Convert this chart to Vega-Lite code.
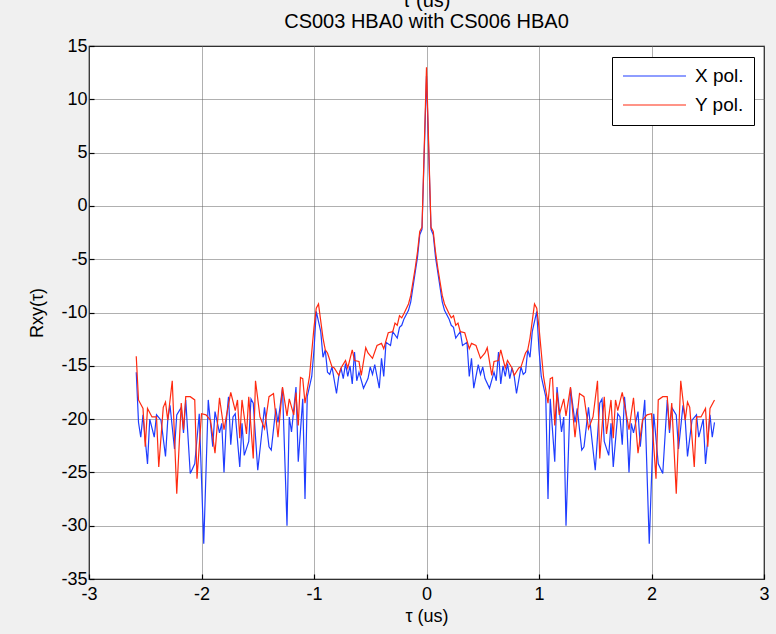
{
  "$schema": "https://vega.github.io/schema/vega-lite/v6.json",
  "width": 675,
  "height": 533,
  "autosize": {"type": "none"},
  "padding": {"left": 89, "top": 46, "right": 12, "bottom": 55},
  "background": "#f0f0f0",
  "title": {
    "text": ["τ (us)", "CS003 HBA0 with CS006 HBA0"],
    "fontSize": 20,
    "font": "Liberation Sans",
    "fontWeight": "normal",
    "color": "black",
    "lineHeight": 21,
    "offset": 5,
    "anchor": "middle"
  },
  "config": {
    "view": {"stroke": "black", "strokeWidth": 1.2, "fill": "white"},
    "axis": {
      "labelFont": "Liberation Sans",
      "titleFont": "Liberation Sans",
      "labelFontSize": 18,
      "titleFontSize": 18,
      "titleFontWeight": "normal",
      "labelColor": "black",
      "titleColor": "black",
      "domain": false,
      "grid": true,
      "gridColor": "#606060",
      "gridDash": [1, 1],
      "gridWidth": 1,
      "tickColor": "black",
      "tickSize": -5,
      "tickWidth": 1.2,
      "labelFlush": false,
      "labelOverlap": false,
      "labelExpr": "replace(datum.label, '−', '-')"
    }
  },
  "datasets": {
    "xpol": [
      {"t": -2.58, "v": -15.6},
      {"t": -2.56, "v": -20.3}, {"t": -2.54, "v": -21.7}, {"t": -2.52, "v": -19.6}, {"t": -2.48, "v": -24.2},
      {"t": -2.46, "v": -20.0}, {"t": -2.42, "v": -21.7}, {"t": -2.40, "v": -19.6}, {"t": -2.36, "v": -20.1},
      {"t": -2.32, "v": -23.5}, {"t": -2.30, "v": -20.1}, {"t": -2.28, "v": -18.7}, {"t": -2.24, "v": -22.8},
      {"t": -2.22, "v": -19.6}, {"t": -2.18, "v": -18.9}, {"t": -2.16, "v": -21.3}, {"t": -2.14, "v": -18.2},
      {"t": -2.10, "v": -25.1}, {"t": -2.06, "v": -24.2}, {"t": -2.02, "v": -19.5}, {"t": -1.98, "v": -31.7},
      {"t": -1.94, "v": -18.2}, {"t": -1.90, "v": -22.6}, {"t": -1.88, "v": -19.3}, {"t": -1.84, "v": -21.3},
      {"t": -1.82, "v": -20.4}, {"t": -1.80, "v": -25.0}, {"t": -1.78, "v": -20.3}, {"t": -1.76, "v": -17.9},
      {"t": -1.74, "v": -22.4}, {"t": -1.72, "v": -19.8}, {"t": -1.70, "v": -19.5}, {"t": -1.66, "v": -24.5},
      {"t": -1.64, "v": -20.4}, {"t": -1.62, "v": -23.4}, {"t": -1.58, "v": -22.1}, {"t": -1.56, "v": -18.1},
      {"t": -1.54, "v": -18.5}, {"t": -1.50, "v": -24.8}, {"t": -1.46, "v": -20.9}, {"t": -1.44, "v": -18.9},
      {"t": -1.40, "v": -22.6}, {"t": -1.38, "v": -22.9}, {"t": -1.34, "v": -19.0}, {"t": -1.32, "v": -20.3},
      {"t": -1.28, "v": -17.1}, {"t": -1.24, "v": -30.0}, {"t": -1.22, "v": -19.8}, {"t": -1.20, "v": -21.2},
      {"t": -1.16, "v": -17.0}, {"t": -1.14, "v": -24.0}, {"t": -1.10, "v": -18.1}, {"t": -1.08, "v": -27.5},
      {"t": -1.06, "v": -17.9}, {"t": -1.02, "v": -16.0}, {"t": -1.00, "v": -13.5}, {"t": -0.98, "v": -9.9},
      {"t": -0.94, "v": -11.8}, {"t": -0.92, "v": -14.2}, {"t": -0.90, "v": -13.5}, {"t": -0.88, "v": -15.6},
      {"t": -0.86, "v": -15.8}, {"t": -0.84, "v": -15.1}, {"t": -0.80, "v": -17.6}, {"t": -0.78, "v": -16.0},
      {"t": -0.76, "v": -15.2}, {"t": -0.74, "v": -16.2}, {"t": -0.72, "v": -14.8}, {"t": -0.70, "v": -16.0},
      {"t": -0.68, "v": -15.0}, {"t": -0.66, "v": -16.7}, {"t": -0.64, "v": -13.7}, {"t": -0.62, "v": -16.4},
      {"t": -0.60, "v": -15.6}, {"t": -0.56, "v": -17.1}, {"t": -0.52, "v": -16.2}, {"t": -0.50, "v": -15.1},
      {"t": -0.48, "v": -15.8}, {"t": -0.46, "v": -14.9}, {"t": -0.42, "v": -17.1}, {"t": -0.40, "v": -14.3},
      {"t": -0.38, "v": -16.0}, {"t": -0.36, "v": -12.8}, {"t": -0.32, "v": -13.1}, {"t": -0.30, "v": -11.8},
      {"t": -0.26, "v": -12.4}, {"t": -0.24, "v": -11.4}, {"t": -0.22, "v": -11.2}, {"t": -0.20, "v": -10.6},
      {"t": -0.16, "v": -9.8}, {"t": -0.14, "v": -9.0}, {"t": -0.12, "v": -7.6}, {"t": -0.10, "v": -6.2},
      {"t": -0.08, "v": -4.8}, {"t": -0.06, "v": -2.7}, {"t": -0.04, "v": -2.2},
      {"t": 0, "v": 12.2},
      {"t": 0.04, "v": -2.2}, {"t": 0.06, "v": -2.7}, {"t": 0.08, "v": -4.8}, {"t": 0.10, "v": -6.2},
      {"t": 0.12, "v": -7.6}, {"t": 0.14, "v": -9.0}, {"t": 0.16, "v": -9.8}, {"t": 0.20, "v": -10.6},
      {"t": 0.22, "v": -11.2}, {"t": 0.24, "v": -11.4}, {"t": 0.26, "v": -12.4}, {"t": 0.30, "v": -11.8},
      {"t": 0.32, "v": -13.1}, {"t": 0.36, "v": -12.8}, {"t": 0.38, "v": -16.0}, {"t": 0.40, "v": -14.3},
      {"t": 0.42, "v": -17.1}, {"t": 0.46, "v": -14.9}, {"t": 0.48, "v": -15.8}, {"t": 0.50, "v": -15.1},
      {"t": 0.52, "v": -16.2}, {"t": 0.56, "v": -17.1}, {"t": 0.60, "v": -15.6}, {"t": 0.62, "v": -16.4},
      {"t": 0.64, "v": -13.7}, {"t": 0.66, "v": -16.7}, {"t": 0.68, "v": -15.0}, {"t": 0.70, "v": -16.0},
      {"t": 0.72, "v": -14.8}, {"t": 0.74, "v": -16.2}, {"t": 0.76, "v": -15.2}, {"t": 0.78, "v": -16.0},
      {"t": 0.80, "v": -17.6}, {"t": 0.84, "v": -15.1}, {"t": 0.86, "v": -15.8}, {"t": 0.88, "v": -15.6},
      {"t": 0.90, "v": -13.5}, {"t": 0.92, "v": -14.2}, {"t": 0.94, "v": -11.8}, {"t": 0.98, "v": -9.9},
      {"t": 1.00, "v": -13.5}, {"t": 1.02, "v": -16.0}, {"t": 1.06, "v": -17.9}, {"t": 1.08, "v": -27.5},
      {"t": 1.10, "v": -18.1}, {"t": 1.14, "v": -24.0}, {"t": 1.16, "v": -17.0}, {"t": 1.20, "v": -21.2},
      {"t": 1.22, "v": -19.8}, {"t": 1.24, "v": -30.0}, {"t": 1.28, "v": -17.1}, {"t": 1.32, "v": -20.3},
      {"t": 1.34, "v": -19.0}, {"t": 1.38, "v": -22.9}, {"t": 1.40, "v": -22.6}, {"t": 1.44, "v": -18.9},
      {"t": 1.46, "v": -20.9}, {"t": 1.50, "v": -24.8}, {"t": 1.54, "v": -18.5}, {"t": 1.56, "v": -18.1},
      {"t": 1.58, "v": -22.1}, {"t": 1.62, "v": -23.4}, {"t": 1.64, "v": -20.4}, {"t": 1.66, "v": -24.5},
      {"t": 1.70, "v": -19.5}, {"t": 1.72, "v": -19.8}, {"t": 1.74, "v": -22.4}, {"t": 1.76, "v": -17.9},
      {"t": 1.78, "v": -20.3}, {"t": 1.80, "v": -25.0}, {"t": 1.82, "v": -20.4}, {"t": 1.84, "v": -21.3},
      {"t": 1.88, "v": -19.3}, {"t": 1.90, "v": -22.6}, {"t": 1.94, "v": -18.2}, {"t": 1.98, "v": -31.7},
      {"t": 2.02, "v": -19.5}, {"t": 2.06, "v": -24.2}, {"t": 2.10, "v": -25.1}, {"t": 2.14, "v": -18.2},
      {"t": 2.16, "v": -21.3}, {"t": 2.18, "v": -18.9}, {"t": 2.22, "v": -19.6}, {"t": 2.24, "v": -22.8},
      {"t": 2.28, "v": -18.7}, {"t": 2.30, "v": -20.1}, {"t": 2.32, "v": -23.5}, {"t": 2.36, "v": -20.1},
      {"t": 2.40, "v": -19.6}, {"t": 2.42, "v": -21.7}, {"t": 2.46, "v": -20.0}, {"t": 2.48, "v": -24.2},
      {"t": 2.52, "v": -19.6}, {"t": 2.54, "v": -21.7}, {"t": 2.56, "v": -20.3}
    ],
    "ypol": [
      {"t": -2.58, "v": -14.1},
      {"t": -2.56, "v": -18.2}, {"t": -2.52, "v": -19.0}, {"t": -2.50, "v": -22.6}, {"t": -2.48, "v": -19.0},
      {"t": -2.44, "v": -19.8}, {"t": -2.40, "v": -19.8}, {"t": -2.38, "v": -24.5}, {"t": -2.34, "v": -18.9},
      {"t": -2.32, "v": -18.4}, {"t": -2.30, "v": -20.1}, {"t": -2.26, "v": -16.4}, {"t": -2.22, "v": -27.0},
      {"t": -2.18, "v": -18.5}, {"t": -2.16, "v": -21.0}, {"t": -2.14, "v": -17.9}, {"t": -2.10, "v": -17.9},
      {"t": -2.06, "v": -18.2}, {"t": -2.04, "v": -25.6}, {"t": -2.00, "v": -19.5}, {"t": -1.96, "v": -19.6},
      {"t": -1.92, "v": -20.1}, {"t": -1.88, "v": -23.2}, {"t": -1.84, "v": -18.0}, {"t": -1.80, "v": -21.0},
      {"t": -1.78, "v": -19.8}, {"t": -1.74, "v": -17.5}, {"t": -1.70, "v": -19.2}, {"t": -1.68, "v": -18.2},
      {"t": -1.66, "v": -21.8}, {"t": -1.64, "v": -18.2}, {"t": -1.60, "v": -21.4}, {"t": -1.58, "v": -17.9},
      {"t": -1.54, "v": -23.7}, {"t": -1.52, "v": -16.4}, {"t": -1.48, "v": -19.8}, {"t": -1.44, "v": -20.9},
      {"t": -1.40, "v": -17.9}, {"t": -1.36, "v": -17.6}, {"t": -1.32, "v": -21.7}, {"t": -1.28, "v": -17.0},
      {"t": -1.24, "v": -19.7}, {"t": -1.22, "v": -18.1}, {"t": -1.18, "v": -19.6}, {"t": -1.16, "v": -17.5},
      {"t": -1.14, "v": -20.6}, {"t": -1.12, "v": -16.1}, {"t": -1.10, "v": -16.2}, {"t": -1.08, "v": -18.5},
      {"t": -1.04, "v": -16.0}, {"t": -1.00, "v": -11.4}, {"t": -0.98, "v": -9.6}, {"t": -0.96, "v": -9.2},
      {"t": -0.92, "v": -12.4}, {"t": -0.90, "v": -13.5}, {"t": -0.88, "v": -13.8}, {"t": -0.84, "v": -15.1},
      {"t": -0.82, "v": -15.2}, {"t": -0.78, "v": -15.9}, {"t": -0.76, "v": -15.2}, {"t": -0.72, "v": -14.5},
      {"t": -0.70, "v": -15.2}, {"t": -0.66, "v": -13.5}, {"t": -0.64, "v": -14.5}, {"t": -0.60, "v": -14.6},
      {"t": -0.58, "v": -15.9}, {"t": -0.54, "v": -13.3}, {"t": -0.52, "v": -13.8}, {"t": -0.48, "v": -14.3},
      {"t": -0.44, "v": -13.1}, {"t": -0.40, "v": -12.9}, {"t": -0.38, "v": -13.4}, {"t": -0.34, "v": -11.9},
      {"t": -0.30, "v": -11.8}, {"t": -0.28, "v": -11.0}, {"t": -0.26, "v": -11.2}, {"t": -0.24, "v": -10.3},
      {"t": -0.22, "v": -10.5}, {"t": -0.20, "v": -10.1}, {"t": -0.16, "v": -9.2}, {"t": -0.14, "v": -8.4},
      {"t": -0.12, "v": -7.1}, {"t": -0.10, "v": -5.8}, {"t": -0.08, "v": -4.3}, {"t": -0.06, "v": -2.4},
      {"t": -0.04, "v": -2.0},
      {"t": 0, "v": 13.0},
      {"t": 0.04, "v": -2.0}, {"t": 0.06, "v": -2.4}, {"t": 0.08, "v": -4.3}, {"t": 0.10, "v": -5.8},
      {"t": 0.12, "v": -7.1}, {"t": 0.14, "v": -8.4}, {"t": 0.16, "v": -9.2}, {"t": 0.20, "v": -10.1},
      {"t": 0.22, "v": -10.5}, {"t": 0.24, "v": -10.3}, {"t": 0.26, "v": -11.2}, {"t": 0.28, "v": -11.0},
      {"t": 0.30, "v": -11.8}, {"t": 0.34, "v": -11.9}, {"t": 0.38, "v": -13.4}, {"t": 0.40, "v": -12.9},
      {"t": 0.44, "v": -13.1}, {"t": 0.48, "v": -14.3}, {"t": 0.52, "v": -13.8}, {"t": 0.54, "v": -13.3},
      {"t": 0.58, "v": -15.9}, {"t": 0.60, "v": -14.6}, {"t": 0.64, "v": -14.5}, {"t": 0.66, "v": -13.5},
      {"t": 0.70, "v": -15.2}, {"t": 0.72, "v": -14.5}, {"t": 0.76, "v": -15.2}, {"t": 0.78, "v": -15.9},
      {"t": 0.82, "v": -15.2}, {"t": 0.84, "v": -15.1}, {"t": 0.88, "v": -13.8}, {"t": 0.90, "v": -13.5},
      {"t": 0.92, "v": -12.4}, {"t": 0.96, "v": -9.2}, {"t": 0.98, "v": -9.6}, {"t": 1.00, "v": -11.4},
      {"t": 1.04, "v": -16.0}, {"t": 1.08, "v": -18.5}, {"t": 1.10, "v": -16.2}, {"t": 1.12, "v": -16.1},
      {"t": 1.14, "v": -20.6}, {"t": 1.16, "v": -17.5}, {"t": 1.18, "v": -19.6}, {"t": 1.22, "v": -18.1},
      {"t": 1.24, "v": -19.7}, {"t": 1.28, "v": -17.0}, {"t": 1.32, "v": -21.7}, {"t": 1.36, "v": -17.6},
      {"t": 1.40, "v": -17.9}, {"t": 1.44, "v": -20.9}, {"t": 1.48, "v": -19.8}, {"t": 1.52, "v": -16.4},
      {"t": 1.54, "v": -23.7}, {"t": 1.58, "v": -17.9}, {"t": 1.60, "v": -21.4}, {"t": 1.64, "v": -18.2},
      {"t": 1.66, "v": -21.8}, {"t": 1.68, "v": -18.2}, {"t": 1.70, "v": -19.2}, {"t": 1.74, "v": -17.5},
      {"t": 1.78, "v": -19.8}, {"t": 1.80, "v": -21.0}, {"t": 1.84, "v": -18.0}, {"t": 1.88, "v": -23.2},
      {"t": 1.92, "v": -20.1}, {"t": 1.96, "v": -19.6}, {"t": 2.00, "v": -19.5}, {"t": 2.04, "v": -25.6},
      {"t": 2.06, "v": -18.2}, {"t": 2.10, "v": -17.9}, {"t": 2.14, "v": -17.9}, {"t": 2.16, "v": -21.0},
      {"t": 2.18, "v": -18.5}, {"t": 2.22, "v": -27.0}, {"t": 2.26, "v": -16.4}, {"t": 2.30, "v": -20.1},
      {"t": 2.32, "v": -18.4}, {"t": 2.34, "v": -18.9}, {"t": 2.38, "v": -24.5}, {"t": 2.40, "v": -19.8},
      {"t": 2.44, "v": -19.8}, {"t": 2.48, "v": -19.0}, {"t": 2.50, "v": -22.6}, {"t": 2.52, "v": -19.0},
      {"t": 2.56, "v": -18.2}
    ]
  },
  "encoding": {
    "x": {
      "field": "t",
      "type": "quantitative",
      "scale": {"domain": [-3, 3], "nice": false, "zero": false},
      "axis": {
        "title": "τ (us)",
        "values": [-3, -2, -1, 0, 1, 2, 3],
        "labelPadding": 11,
        "titlePadding": 4
      }
    },
    "y": {
      "field": "v",
      "type": "quantitative",
      "scale": {"domain": [-35, 15], "nice": false, "zero": false},
      "axis": {
        "title": "Rxy(τ)",
        "values": [-35, -30, -25, -20, -15, -10, -5, 0, 5, 10, 15],
        "labelPadding": 7,
        "titlePadding": 14
      }
    }
  },
  "layer": [
    {
      "data": {"name": "xpol"},
      "mark": {"type": "line", "strokeWidth": 1.2, "clip": true},
      "encoding": {
        "color": {
          "datum": "X pol.",
          "type": "nominal",
          "scale": {"domain": ["X pol.", "Y pol."], "range": ["#1f3dff", "#ff2a10"]},
          "legend": {
            "orient": "none",
            "legendX": 523,
            "legendY": 11,
            "title": null,
            "symbolType": "stroke",
            "symbolSize": 3969,
            "symbolStrokeWidth": 1.2,
            "clipHeight": 18,
            "labelFontSize": 19,
            "labelFont": "Liberation Sans",
            "labelColor": "black",
            "strokeColor": "black",
            "fillColor": "white",
            "padding": 10,
            "rowPadding": 10,
            "labelOffset": 8,
            "cornerRadius": 0
          }
        }
      }
    },
    {
      "data": {"name": "ypol"},
      "mark": {"type": "line", "strokeWidth": 1.2, "clip": true},
      "encoding": {"color": {"datum": "Y pol.", "type": "nominal"}}
    }
  ]
}
